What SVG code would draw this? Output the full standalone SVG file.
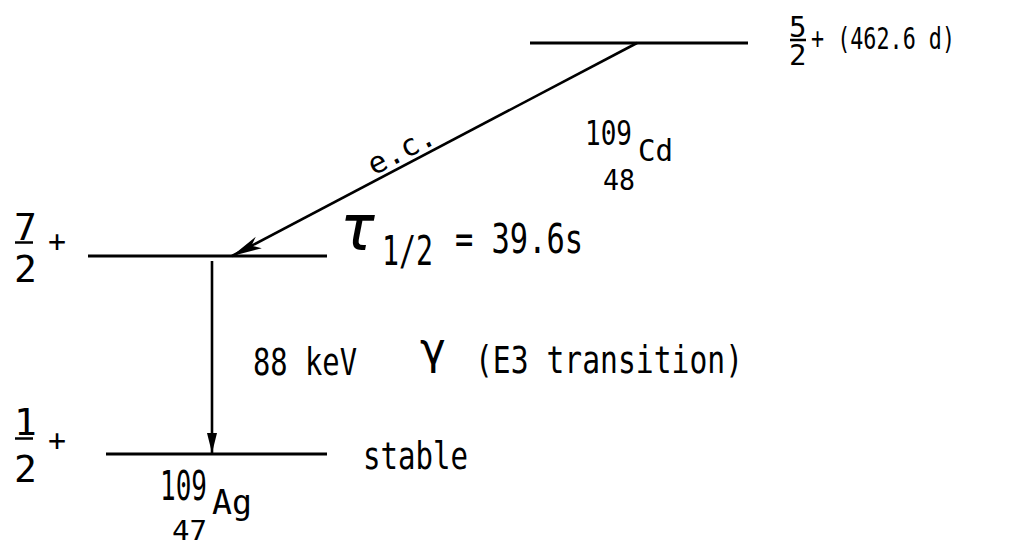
<svg xmlns="http://www.w3.org/2000/svg" width="1025" height="543" viewBox="0 0 1025 543">
<style>
text{font-family:"DejaVu Sans Mono","Liberation Mono",monospace;fill:#000}
.lvl{stroke:#000;stroke-width:3;fill:none}
.arr{stroke:#000;stroke-width:2.6;fill:none}
.frac{stroke:#000;stroke-width:2.5}
</style>
<defs>
<marker id="ah1" markerUnits="userSpaceOnUse" markerWidth="40" markerHeight="20" viewBox="-32 -10 34 20" refX="0" refY="0" orient="auto">
<path d="M0,0 L-30,-7 L-22,0 L-30,6 Z" fill="#000"/>
</marker>
<marker id="ah2" markerUnits="userSpaceOnUse" markerWidth="30" markerHeight="14" viewBox="-22 -7 24 14" refX="0" refY="0" orient="auto">
<path d="M0,0 L-20,-5 L-20,5 Z" fill="#000"/>
</marker>
</defs>
<rect width="1025" height="543" fill="#fff"/>

<g id="level-cd">
<line class="lvl" x1="530" y1="43" x2="748" y2="43"/>
<text x="789" y="37" font-size="29">5</text>
<line class="frac" x1="790" y1="40" x2="806" y2="40"/>
<text x="789" y="65" font-size="29">2</text>
<text x="811" y="49" font-size="31" textLength="144" lengthAdjust="spacingAndGlyphs">+ (462.6 d)</text>
<text x="585" y="145" font-size="34" textLength="47" lengthAdjust="spacingAndGlyphs">109</text>
<text x="638" y="161" font-size="31" textLength="35" lengthAdjust="spacingAndGlyphs">Cd</text>
<text x="603" y="190" font-size="28" textLength="32" lengthAdjust="spacingAndGlyphs">48</text>
</g>

<g id="level-ag-excited">
<line class="lvl" x1="88" y1="256" x2="327" y2="256"/>
<text x="14" y="240" font-size="38">7</text>
<line class="frac" x1="15" y1="242.5" x2="33" y2="242.5"/>
<text x="14" y="282" font-size="38">2</text>
<text x="48" y="252" font-size="30">+</text>
<text x="338" y="250" font-size="64" font-family="DejaVu Serif, serif" font-style="italic">τ</text>
<text x="382" y="265" font-size="40" textLength="51" lengthAdjust="spacingAndGlyphs">1/2</text>
<text x="455" y="253" font-size="40" textLength="128" lengthAdjust="spacingAndGlyphs">= 39.6s</text>
</g>

<g id="level-ag-ground">
<line class="lvl" x1="106" y1="454" x2="327" y2="454"/>
<text x="14" y="435" font-size="38">1</text>
<line class="frac" x1="15" y1="438.5" x2="33" y2="438.5"/>
<text x="14" y="482" font-size="38">2</text>
<text x="48" y="451" font-size="30">+</text>
<text x="363" y="469" font-size="37" textLength="105" lengthAdjust="spacingAndGlyphs">stable</text>
<text x="160" y="500" font-size="41" textLength="47" lengthAdjust="spacingAndGlyphs">109</text>
<text x="212" y="514" font-size="33" textLength="40" lengthAdjust="spacingAndGlyphs">Ag</text>
<text x="172" y="540" font-size="27" textLength="35" lengthAdjust="spacingAndGlyphs">47</text>
</g>

<g id="connectors">
<path class="arr" d="M637,43 L232,256" marker-end="url(#ah1)"/>
<text transform="translate(406,159) rotate(-27.6)" font-size="30" text-anchor="middle" textLength="72" lengthAdjust="spacingAndGlyphs">e.c.</text>
<path class="arr" d="M212,261 L212,453" marker-end="url(#ah2)"/>
<text x="253" y="375" font-size="37" textLength="104" lengthAdjust="spacingAndGlyphs">88 keV</text>
<text x="420" y="364" font-size="44" font-family="DejaVu Sans, sans-serif">γ</text>
<text x="475" y="373" font-size="37" textLength="268" lengthAdjust="spacingAndGlyphs">(E3 transition)</text>
</g>
</svg>
